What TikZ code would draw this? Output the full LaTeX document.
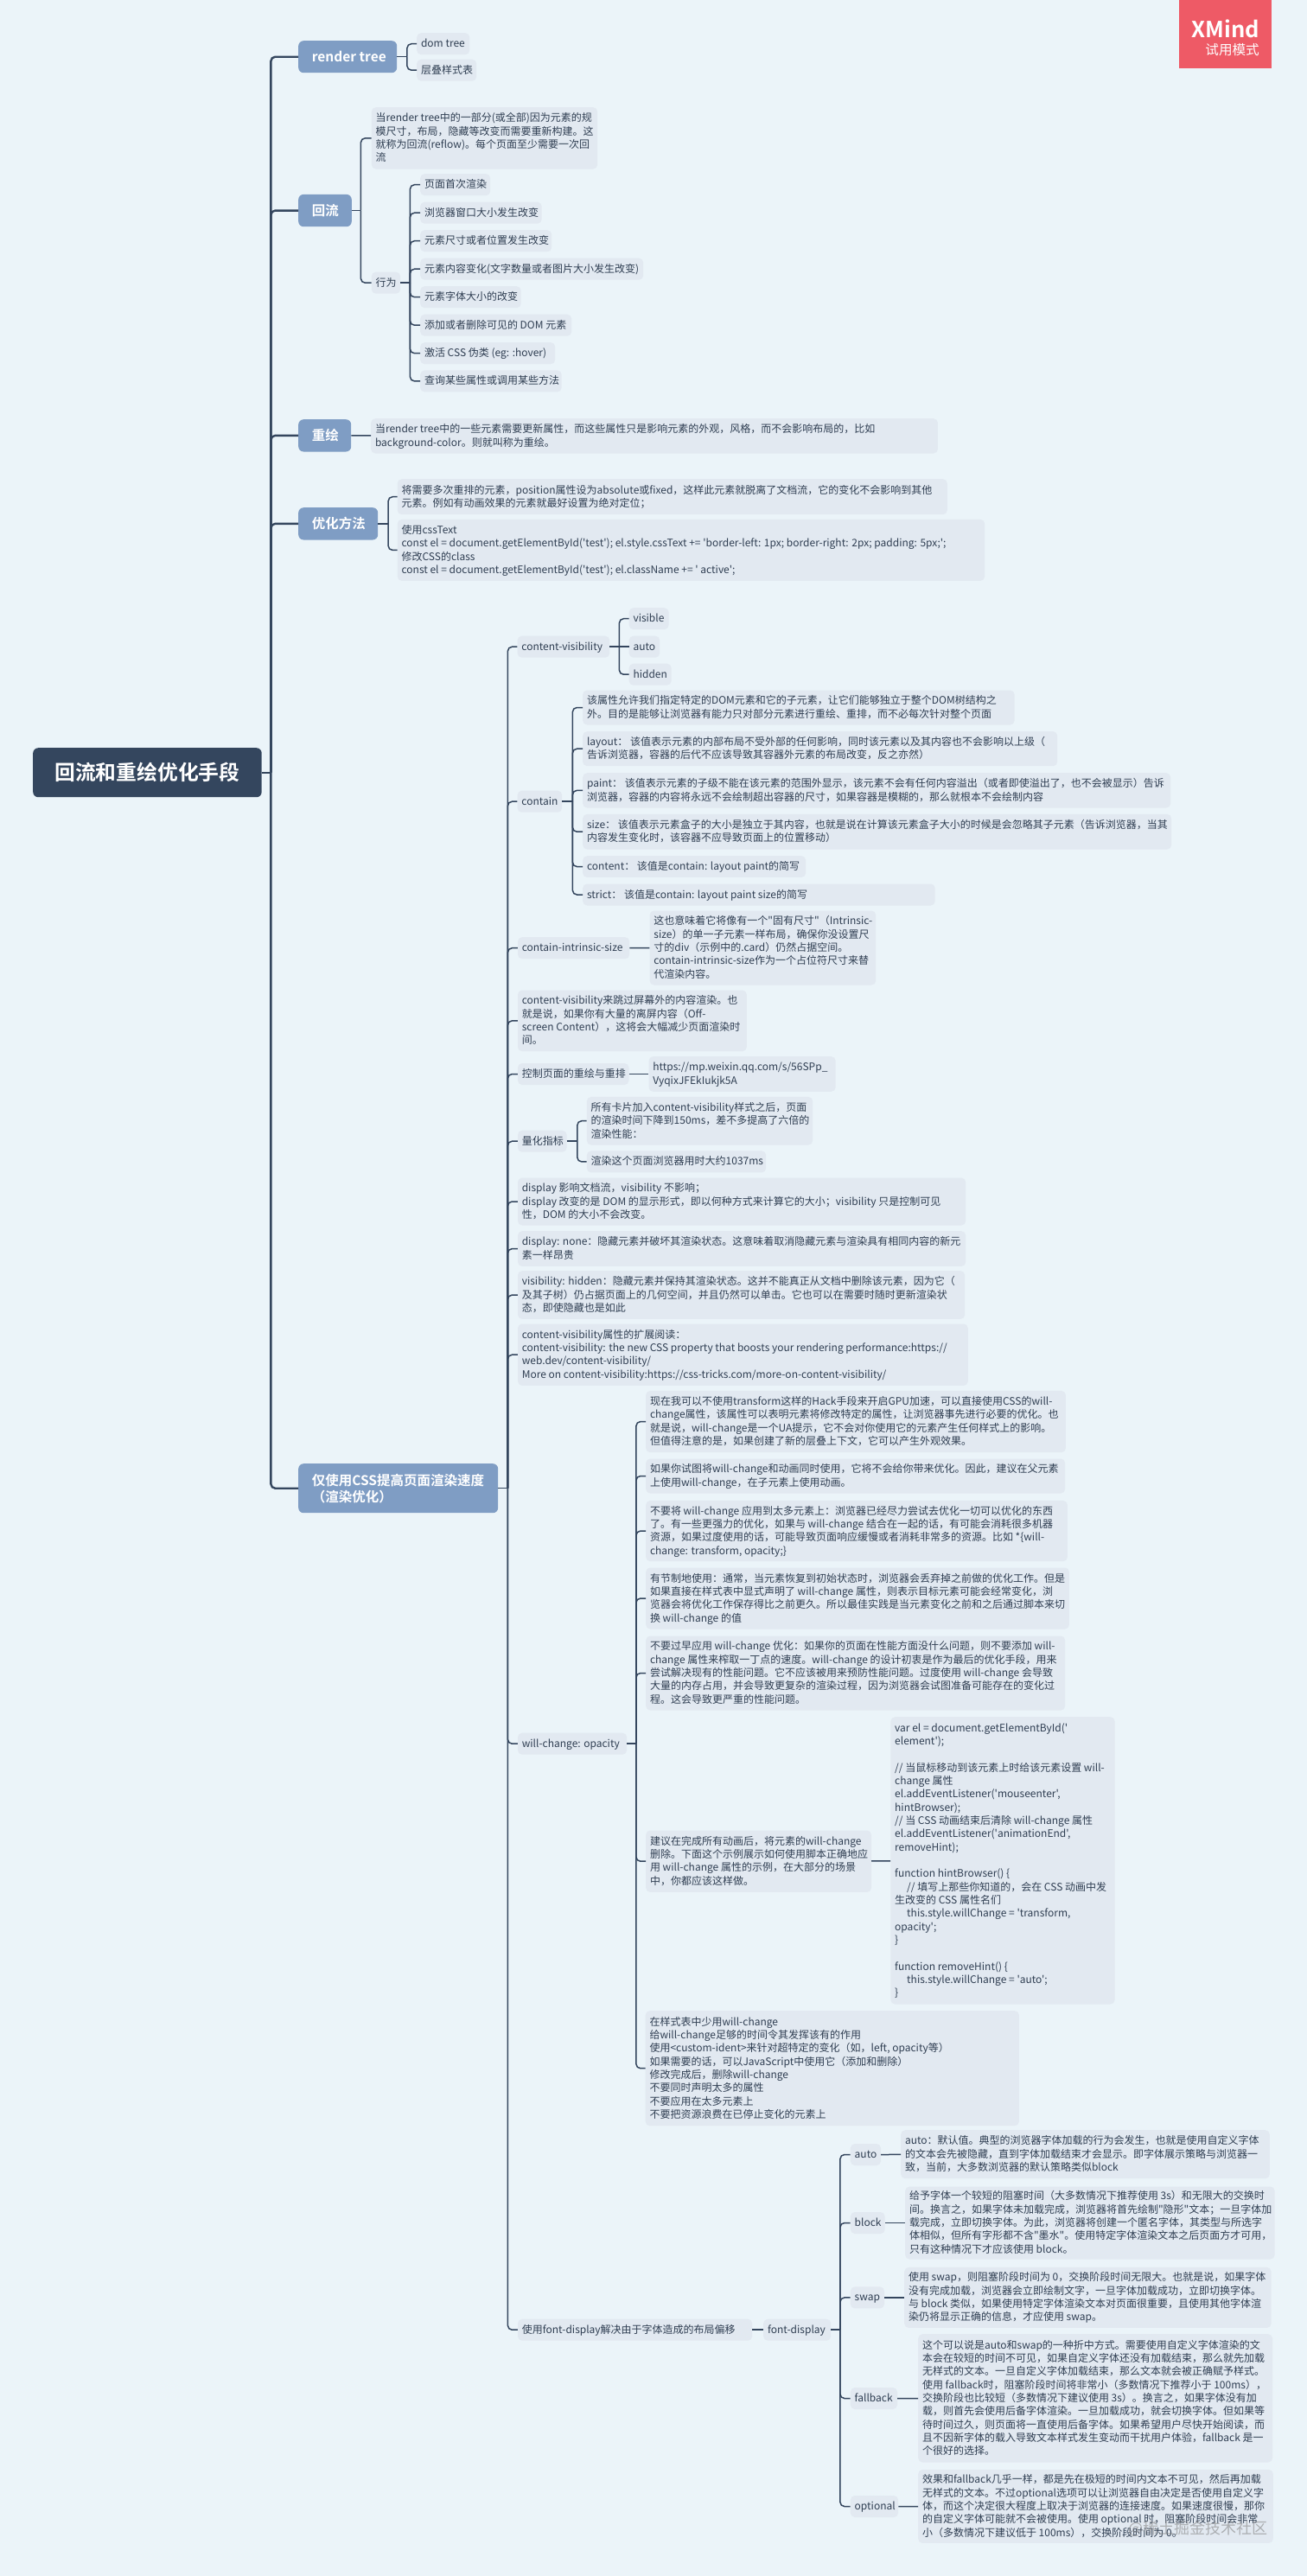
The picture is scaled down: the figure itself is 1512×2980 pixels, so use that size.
\documentclass[tikz,border=0pt]{standalone}
\usepackage{fontspec}
\newfontfamily\nsc{Noto Sans CJK SC}
\newfontfamily\nscb{Noto Sans CJK SC Bold}
\definecolor{bgc}{HTML}{EBF4F9}
\definecolor{leafc}{HTML}{E2E9F1}
\definecolor{topicc}{HTML}{7F9DC4}
\definecolor{rootc}{HTML}{34465E}
\definecolor{linec}{HTML}{34465E}
\definecolor{txtc}{HTML}{2F3E52}
\definecolor{redc}{HTML}{EE5A66}
\tikzset{
  leaf/.style={fill=leafc,rounded corners=5pt,text=txtc,inner ysep=0pt,font=\nsc\fontsize{12}{15.33}\selectfont},
  topic/.style={fill=topicc,rounded corners=6pt,text=white,inner ysep=0pt,font=\nscb\fontsize{15.5}{19}\selectfont},
  rootbox/.style={fill=rootc,rounded corners=6pt,text=white,inner ysep=0pt,font=\nscb\fontsize{23.8}{28}\selectfont},
  lnk/.style={draw=linec,line width=1.5pt},
  trunk/.style={draw=linec,line width=2.4pt}
}
% centre the glyphs optically: the struts of a row sit lower than LaTeX's default
\newcommand{\ownstrut}{\ifdim\baselineskip<16pt
    \setbox\strutbox\hbox{\vrule height .76\baselineskip depth .24\baselineskip width 0pt}%
  \else
    \setbox\strutbox\hbox{\vrule height .81\baselineskip depth .19\baselineskip width 0pt}%
  \fi}
% style, name, x1, y1, x2, y2, inset, text
\newcommand{\nd}[8]{%
  \pgfmathsetlengthmacro{\tw}{((#5)-(#3))*1pt-2*(#7)*1pt}%
  \node[#1,anchor=north west,inner xsep=#7pt,minimum width={((#5)-(#3))*1pt},minimum height={((#6)-(#4))*1pt}] (#2) at ({#3},{#4}) {\ownstrut\makebox[\tw][l]{\begin{tabular}{@{}l@{}}#8\end{tabular}}};}
\newcommand{\lf}[6]{\nd{leaf}{#1}{#2}{#3}{#4}{#5}{4.8}{#6}}
% single-line leaf by centre y
\newcommand{\one}[5]{\nd{leaf}{#1}{#2}{(#3)-12.5}{#4}{(#3)+12.5}{4.8}{#5}}
% parent, spine offset, child
\newcommand{\br}[4][lnk]{\draw[#1] (#2.east) -- ++(#3,0) coordinate (sp); \draw[#1,rounded corners=5pt] (sp) |- (#4.west);}
\begin{document}
\begin{tikzpicture}[x=1pt,y=-1pt]
\useasboundingbox (0,0) rectangle (1512,2980);
\fill[bgc] (0,0) rectangle (1512,2980);

% XMind badge
\fill[redc] (1364,0) rectangle (1471.3,79.3);
\node[anchor=east,inner sep=0pt,text=white,font=\nscb\fontsize{25.5}{28}\selectfont] (xm) at (1457,33) {XMind};
\node[anchor=east,inner sep=0pt,text=white,font=\nsc\fontsize{15.6}{18}\selectfont] (xmt) at (1457,57.7) {试用模式};

% root and topics
\nd{rootbox}{root}{38}{865}{302.5}{922}{25}{回流和重绘优化手段}
\nd{topic}{t1}{345}{47}{459}{84}{15.7}{render tree}
\nd{topic}{t2}{345}{224.7}{406.6}{262}{15.7}{回流}
\nd{topic}{t3}{345}{485}{406}{522.3}{15.7}{重绘}
\nd{topic}{t4}{345}{587}{437}{624.3}{15.7}{优化方法}
\nd{topic}{t5}{345}{1693}{576}{1750}{15.7}{仅使用CSS提高页面渲染速度\\（渲染优化）}

% render tree
\one{a1}{482}{50.5}{543}{dom tree}
\one{a2}{482}{81}{551}{层叠样式表}

% reflow
\lf{b1}{429.6}{124}{691}{195.3}{当render tree中的一部分(或全部)因为元素的规\\模尺寸，布局，隐藏等改变而需要重新构建。这\\就称为回流(reflow)。每个页面至少需要一次回\\流}
\one{b2}{429.6}{327}{463}{行为}
\one{c1}{486}{213.5}{567}{页面首次渲染}
\one{c2}{486}{246}{626.5}{浏览器窗口大小发生改变}
\one{c3}{486}{278.5}{638}{元素尺寸或者位置发生改变}
\one{c4}{486}{311}{744}{元素内容变化(文字数量或者图片大小发生改变)}
\one{c5}{486}{343.5}{602.5}{元素字体大小的改变}
\one{c6}{486}{376}{661}{添加或者删除可见的 DOM 元素}
\one{c7}{486}{408.5}{642}{激活 CSS 伪类 (eg: :hover)}
\one{c8}{486}{440.7}{649.5}{查询某些属性或调用某些方法}

% repaint
\lf{d1}{429}{484}{1084.7}{524.3}{当render tree中的一些元素需要更新属性，而这些属性只是影响元素的外观，风格，而不会影响布局的，比如\\background-color。则就叫称为重绘。}

% optimise
\lf{e1}{459.6}{554}{1095.6}{595}{将需要多次重排的元素，position属性设为absolute或fixed，这样此元素就脱离了文档流，它的变化不会影响到其他\\元素。例如有动画效果的元素就最好设置为绝对定位；}
\lf{e2}{459.6}{600.7}{1139}{671.7}{使用cssText\\const el = document.getElementById('test'); el.style.cssText += 'border-left: 1px; border-right: 2px; padding: 5px;';\\修改CSS的class\\const el = document.getElementById('test'); el.className += ' active';}

% topic 5 children
\one{f1}{598.4}{748}{705}{content-visibility}
\one{f1a}{727.5}{715.5}{773.4}{visible}
\one{f1b}{727.5}{748}{763}{auto}
\one{f1c}{727.5}{780}{776.4}{hidden}

\one{f2}{598.4}{927}{650}{contain}
\lf{f2a}{674}{798.3}{1173.4}{838.3}{该属性允许我们指定特定的DOM元素和它的子元素，让它们能够独立于整个DOM树结构之\\外。目的是能够让浏览器有能力只对部分元素进行重绘、重排，而不必每次针对整个页面}
\lf{f2b}{674}{846}{1223}{886}{layout： 该值表示元素的内部布局不受外部的任何影响，同时该元素以及其内容也不会影响以上级（\\告诉浏览器，容器的后代不应该导致其容器外元素的布局改变，反之亦然）}
\lf{f2c}{674}{894}{1354}{934.3}{paint： 该值表示元素的子级不能在该元素的范围外显示，该元素不会有任何内容溢出（或者即使溢出了，也不会被显示）告诉\\浏览器，容器的内容将永远不会绘制超出容器的尺寸，如果容器是模糊的，那么就根本不会绘制内容}
\lf{f2d}{674}{941.7}{1355}{982.3}{size： 该值表示元素盒子的大小是独立于其内容，也就是说在计算该元素盒子大小的时候是会忽略其子元素（告诉浏览器，当其\\内容发生变化时，该容器不应导致页面上的位置移动）}
\lf{f2e}{674}{990}{932}{1014.7}{content： 该值是contain: layout paint的简写}
\lf{f2f}{674}{1022.3}{1081.5}{1047.3}{strict： 该值是contain: layout paint size的简写}

\one{f3}{598.8}{1096.5}{728}{contain-intrinsic-size}
\lf{f3a}{751.4}{1053.3}{1013}{1139.3}{这也意味着它将像有一个"固有尺寸"（Intrinsic-\\size）的单一子元素一样布局，确保你没设置尺\\寸的div（示例中的.card）仍然占据空间。\\contain-intrinsic-size作为一个占位符尺寸来替\\代渲染内容。}
\lf{f4}{598.8}{1145.3}{863.6}{1216}{content-visibility来跳过屏幕外的内容渲染。也\\就是说，如果你有大量的离屏内容（Off-\\screen Content），这将会大幅减少页面渲染时\\间。}
\one{f5}{598.8}{1242.3}{727.3}{控制页面的重绘与重排}
\lf{f5a}{750.3}{1222}{966.5}{1262.6}{https://mp.weixin.qq.com/s/56SPp\_\\VyqixJFEkIukjk5A}
\one{f6}{598.8}{1320}{655.4}{量化指标}
\lf{f6a}{678.7}{1268.7}{940}{1324.3}{所有卡片加入content-visibility样式之后，页面\\的渲染时间下降到150ms，差不多提高了六倍的\\渲染性能：}
\one{f6b}{678.7}{1343.7}{886}{渲染这个页面浏览器用时大约1037ms}
\lf{f7}{598.8}{1362.3}{1117}{1417.3}{display 影响文档流，visibility 不影响；\\display 改变的是 DOM 的显示形式，即以何种方式来计算它的大小；visibility 只是控制可见\\性，DOM 的大小不会改变。}
\lf{f8}{598.8}{1424}{1117}{1464.7}{display: none：隐藏元素并破坏其渲染状态。这意味着取消隐藏元素与渲染具有相同内容的新元\\素一样昂贵}
\lf{f9}{598.8}{1470}{1116}{1525.7}{visibility: hidden：隐藏元素并保持其渲染状态。这并不能真正从文档中删除该元素，因为它（\\及其子树）仍占据页面上的几何空间，并且仍然可以单击。它也可以在需要时随时更新渲染状\\态，即使隐藏也是如此}
\lf{f10}{598.8}{1531.3}{1119.6}{1602.7}{content-visibility属性的扩展阅读：\\content-visibility: the new CSS property that boosts your rendering performance:https://\\web.dev/content-visibility/\\More on content-visibility:https://css-tricks.com/more-on-content-visibility/}

\one{f11}{598.8}{2017}{725}{will-change: opacity}
\lf{w1}{747}{1608.7}{1232.7}{1680}{现在我可以不使用transform这样的Hack手段来开启GPU加速，可以直接使用CSS的will-\\change属性，该属性可以表明元素将修改特定的属性，让浏览器事先进行必要的优化。也\\就是说，will-change是一个UA提示，它不会对你使用它的元素产生任何样式上的影响。\\但值得注意的是，如果创建了新的层叠上下文，它可以产生外观效果。}
\lf{w2}{747}{1687.3}{1232}{1727.3}{如果你试图将will-change和动画同时使用，它将不会给你带来优化。因此，建议在父元素\\上使用will-change，在子元素上使用动画。}
\lf{w3}{747}{1735.7}{1234.7}{1806}{不要将 will-change 应用到太多元素上：浏览器已经尽力尝试去优化一切可以优化的东西\\了。有一些更强力的优化，如果与 will-change 结合在一起的话，有可能会消耗很多机器\\资源，如果过度使用的话，可能导致页面响应缓慢或者消耗非常多的资源。比如 *\{will-\\change: transform, opacity;\}}
\lf{w4}{747}{1813.3}{1236.7}{1884.3}{有节制地使用：通常，当元素恢复到初始状态时，浏览器会丢弃掉之前做的优化工作。但是\\如果直接在样式表中显式声明了 will-change 属性，则表示目标元素可能会经常变化，浏\\览器会将优化工作保存得比之前更久。所以最佳实践是当元素变化之前和之后通过脚本来切\\换 will-change 的值}
\lf{w5}{747}{1892.3}{1232}{1978.3}{不要过早应用 will-change 优化：如果你的页面在性能方面没什么问题，则不要添加 will-\\change 属性来榨取一丁点的速度。will-change 的设计初衷是作为最后的优化手段，用来\\尝试解决现有的性能问题。它不应该被用来预防性能问题。过度使用 will-change 会导致\\大量的内存占用，并会导致更复杂的渲染过程，因为浏览器会试图准备可能存在的变化过\\程。这会导致更严重的性能问题。}
\lf{w6}{747}{2117.3}{1007.8}{2188.7}{建议在完成所有动画后，将元素的will-change\\删除。下面这个示例展示如何使用脚本正确地应\\用 will-change 属性的示例，在大部分的场景\\中，你都应该这样做。}
\lf{w6a}{1030.2}{1986}{1289.4}{2318.3}{var el = document.getElementById('\\element');\\ \\// 当鼠标移动到该元素上时给该元素设置 will-\\change 属性\\el.addEventListener('mouseenter',\\hintBrowser);\\// 当 CSS 动画结束后清除 will-change 属性\\el.addEventListener('animationEnd',\\removeHint);\\ \\function hintBrowser() \{\\\hspace*{14pt}// 填写上那些你知道的，会在 CSS 动画中发\\生改变的 CSS 属性名们\\\hspace*{14pt}this.style.willChange = 'transform,\\opacity';\\\}\\ \\function removeHint() \{\\\hspace*{14pt}this.style.willChange = 'auto';\\\}}
\lf{w7}{746.5}{2326}{1178.7}{2459}{在样式表中少用will-change\\给will-change足够的时间令其发挥该有的作用\\使用<custom-ident>来针对超特定的变化（如，left, opacity等）\\如果需要的话，可以JavaScript中使用它（添加和删除）\\修改完成后，删除will-change\\不要同时声明太多的属性\\不要应用在太多元素上\\不要把资源浪费在已停止变化的元素上}

\one{f12}{598.8}{2695}{870}{使用font-display解决由于字体造成的布局偏移}
\one{g0}{883}{2695}{961}{font-display}
\one{g1}{983.7}{2492.3}{1018.8}{auto}
\lf{g1a}{1042}{2464}{1468.6}{2520}{auto：默认值。典型的浏览器字体加载的行为会发生，也就是使用自定义字体\\的文本会先被隐藏，直到字体加载结束才会显示。即字体展示策略与浏览器一\\致，当前，大多数浏览器的默认策略类似block}
\one{g2}{983.7}{2571.3}{1023.5}{block}
\lf{g2a}{1047}{2529.3}{1474.4}{2613.3}{给予字体一个较短的阻塞时间（大多数情况下推荐使用 3s）和无限大的交换时\\间。换言之，如果字体未加载完成，浏览器将首先绘制"隐形"文本；一旦字体加\\载完成，立即切换字体。为此，浏览器将创建一个匿名字体，其类型与所选字\\体相似，但所有字形都不含"墨水"。使用特定字体渲染文本之后页面方才可用，\\只有这种情况下才应该使用 block。}
\one{g3}{983.7}{2657.7}{1022.8}{swap}
\lf{g3a}{1046}{2622.7}{1470.4}{2692.7}{使用 swap，则阻塞阶段时间为 0，交换阶段时间无限大。也就是说，如果字体\\没有完成加载，浏览器会立即绘制文字，一旦字体加载成功，立即切换字体。\\与 block 类似，如果使用特定字体渲染文本对页面很重要，且使用其他字体渲\\染仍将显示正确的信息，才应使用 swap。}
\one{g4}{983.7}{2774.3}{1037.8}{fallback}
\lf{g4a}{1062}{2700}{1471.9}{2848.3}{这个可以说是auto和swap的一种折中方式。需要使用自定义字体渲染的文\\本会在较短的时间不可见，如果自定义字体还没有加载结束，那么就先加载\\无样式的文本。一旦自定义字体加载结束，那么文本就会被正确赋予样式。\\使用 fallback时，阻塞阶段时间将非常小（多数情况下推荐小于 100ms），\\交换阶段也比较短（多数情况下建议使用 3s）。换言之，如果字体没有加\\载，则首先会使用后备字体渲染。一旦加载成功，就会切换字体。但如果等\\待时间过久，则页面将一直使用后备字体。如果希望用户尽快开始阅读，而\\且不因新字体的载入导致文本样式发生变动而干扰用户体验，fallback 是一\\个很好的选择。}
\one{g5}{983.7}{2899.3}{1038.9}{optional}
\lf{g5a}{1062}{2856.7}{1472.6}{2941.7}{效果和fallback几乎一样，都是先在极短的时间内文本不可见，然后再加载\\无样式的文本。不过optional选项可以让浏览器自由决定是否使用自定义字\\体，而这个决定很大程度上取决于浏览器的连接速度。如果速度很慢，那你\\的自定义字体可能就不会被使用。使用 optional 时，阻塞阶段时间会非常\\小（多数情况下建议低于 100ms），交换阶段时间为 0。}

% connectors
\foreach \c in {t1,t2,t3,t4,t5}{\br[trunk]{root}{10.5}{\c}}
\br{t1}{11.5}{a1}\br{t1}{11.5}{a2}
\br{t2}{10.4}{b1}\br{t2}{10.4}{b2}
\foreach \c in {c1,c2,c3,c4,c5,c6,c7,c8}{\br{b2}{11}{\c}}
\draw[lnk] (t3) -- (d1);
\br{t4}{11.7}{e1}\br{t4}{11.7}{e2}
\foreach \c in {f1,f2,f3,f4,f5,f6,f7,f8,f9,f10,f11,f12}{\br{t5}{11}{\c}}
\br{f1}{11}{f1a}\br{f1}{11}{f1c}\draw[lnk] (f1) -- (f1b);
\foreach \c in {f2a,f2b,f2c,f2d,f2e,f2f}{\br{f2}{12}{\c}}
\draw[lnk] (f3) -- (f3a);
\draw[lnk] (f5) -- (f5a);
\br{f6}{12}{f6a}\br{f6}{12}{f6b}
\foreach \c in {w1,w2,w3,w4,w5,w6,w7}{\br{f11}{10.5}{\c}}
\draw[lnk] (w6) -- (w6a);
\draw[lnk] (f12) -- (g0);
\foreach \c in {g1,g2,g3,g4,g5}{\br{g0}{10.5}{\c}}
\draw[lnk] (g1) -- (g1a);
\draw[lnk] (g2) -- (g2a);
\draw[lnk] (g3) -- (g3a);
\draw[lnk] (g4) -- (g4a);
\draw[lnk] (g5) -- (g5a);

% watermark
\node[anchor=east,inner sep=0pt,text=gray,opacity=0.55,font=\nsc\fontsize{18}{20}\selectfont] (wm) at (1467,2925) {@稀土掘金技术社区};
\end{tikzpicture}
\end{document}
